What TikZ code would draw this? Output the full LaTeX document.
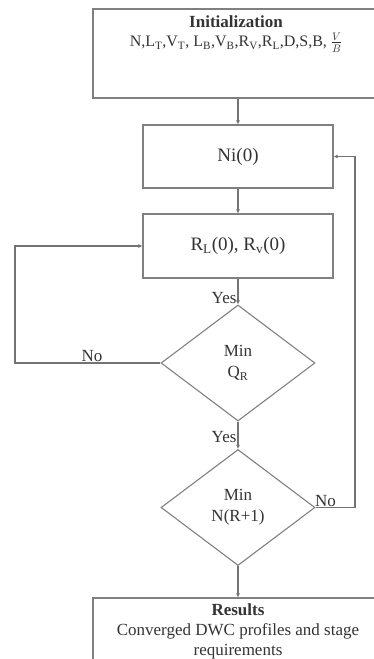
\documentclass[tikz,border=0pt]{standalone}
\usepackage{fontspec}
\setmainfont{Liberation Serif}
\usetikzlibrary{shapes.geometric,arrows.meta}
\begin{document}
\begin{tikzpicture}[x=1pt, y=-1pt, >={Latex[length=4pt,width=4pt]},
  every node/.style={text=black!80, font=\fontsize{17}{21}\selectfont},
  procbox/.style={draw=black!50, line width=1.1pt, minimum width=190pt, align=center},
  bigbox/.style={draw=black!50, line width=1.1pt, minimum width=290pt, align=center},
  decision/.style={draw=black!50, line width=1.1pt, diamond, minimum width=154pt, minimum height=116pt, inner sep=0pt, align=center},
  flow/.style={draw=black!55, line width=1.1pt, ->}]
\useasboundingbox (0,0) rectangle (374,659);
\begin{scope}
\clip (0,0) rectangle (374,659);
\node[bigbox, minimum height=89pt] (init) at (238,53.5) {};
\node[anchor=north, align=center, inner sep=0pt] (inittext) at (236,16) {\textbf{Initialization}\\[-2pt]
  \fontsize{16}{19}\selectfont N,L\textsubscript{T},V\textsubscript{T}, L\textsubscript{B},V\textsubscript{B},R\textsubscript{V},R\textsubscript{L},D,S,B, $\frac{V}{B}$};
\node[procbox, minimum height=63pt, font=\fontsize{19}{22}\selectfont] (ni) at (238,156.5) {Ni(0)};
\node[procbox, minimum height=64pt, font=\fontsize{19}{22}\selectfont] (rr) at (238,246) {R\textsubscript{L}(0), R\textsubscript{v}(0)};
\node[decision] (minq) at (238,363) {Min\\Q\textsubscript{R}};
\node[decision] (minn) at (238,507.5) {Min\\N(R+1)};
\node[bigbox, minimum height=66pt, font=\fontsize{17}{20}\selectfont] (res) at (238,631) {\textbf{Results}\\Converged DWC profiles and stage\\requirements};
\end{scope}
\coordinate (leftlow) at (15,363);
\coordinate (lefthigh) at (15,246);
\coordinate (rightlow) at (355,507.5);
\coordinate (righthigh) at (355,156.5);
\draw[flow] (init) -- (ni);
\draw[flow] (ni) -- (rr);
\draw[flow] (rr) -- node[pos=0.75, left, inner sep=1pt] (yesq) {Yes} (minq);
\draw[flow] (minq) -- node[pos=0.55, left, inner sep=1pt] (yesn) {Yes} (minn);
\draw[flow] (minn) -- (res);
\draw[flow] (minq.west) -- (leftlow) -- (lefthigh) -- (rr.west);
\draw[flow] (minn.east) -- (rightlow) -- (righthigh) -- (ni.east);
\node[anchor=south, inner sep=1pt] (noq) at (92,363) {No};
\node[anchor=south west, inner sep=1pt] (non) at (314,507.5) {No};
\end{tikzpicture}
\end{document}
